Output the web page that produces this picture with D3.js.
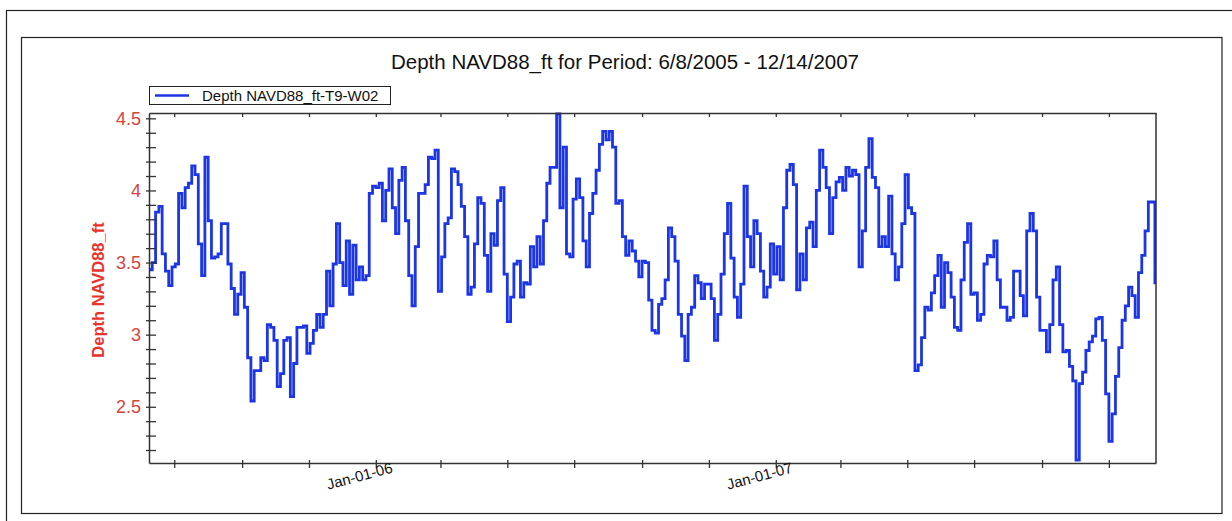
<!DOCTYPE html>
<html><head><meta charset="utf-8">
<script src="https://cdn.jsdelivr.net/npm/d3@7/dist/d3.min.js"></script>
<style>
body{margin:0;background:#fff}
svg{display:block}
text{font-family:"Liberation Sans",Arial,sans-serif}
</style>
</head><body>
<svg id="chart" width="1232" height="521"></svg>
<script>
// ---------- data ----------
const titleText = "Depth NAVD88_ft for Period: 6/8/2005 - 12/14/2007";
const seriesName = "Depth NAVD88_ft-T9-W02";
const yAxisTitle = "Depth NAVD88_ft";
const periodStart = "2005-06-08";
const periodEnd = "2007-12-14";
const sampleStepDays = 3;
const depthValues = [
3.45,3.5,3.85,3.89,3.56,3.44,3.34,3.47,3.49,3.98,
3.88,4.02,4.05,4.17,4.11,3.63,3.41,4.23,3.79,3.53,
3.54,3.56,3.77,3.77,3.49,3.32,3.14,3.28,3.43,3.19,
2.84,2.54,2.75,2.75,2.84,2.82,3.07,3.05,2.96,2.64,
2.73,2.96,2.98,2.57,2.80,3.05,3.05,3.06,2.87,2.94,
3.03,3.14,3.05,3.14,3.44,3.2,3.49,3.77,3.50,3.34,
3.65,3.28,3.62,3.38,3.47,3.38,3.41,3.98,4.03,4.02,
4.05,3.79,4.00,4.15,3.88,3.70,4.07,4.16,3.79,3.41,
3.2,3.61,3.98,3.98,4.04,4.23,4.22,4.28,3.3,3.54,
3.77,3.81,4.15,4.13,4.04,3.89,3.68,3.28,3.33,3.63,
3.95,3.91,3.55,3.30,3.70,3.62,3.93,4.02,3.42,3.09,
3.26,3.49,3.51,3.26,3.36,3.35,3.61,3.47,3.68,3.49,
3.79,4.05,4.16,4.16,4.53,3.88,4.30,3.56,3.54,3.94,
4.08,3.95,3.65,3.47,3.84,3.98,4.14,4.32,4.41,4.35,
4.41,4.30,3.91,3.93,3.68,3.55,3.65,3.58,3.51,3.40,
3.51,3.5,3.24,3.03,3.01,3.21,3.25,3.38,3.74,3.68,
3.51,3.14,2.99,2.82,3.14,3.19,3.41,3.36,3.25,3.35,
3.35,3.25,2.96,3.14,3.42,3.70,3.91,3.53,3.26,3.12,
3.35,4.03,3.68,3.47,3.79,3.70,3.44,3.26,3.33,3.63,
3.42,3.61,3.38,3.88,4.14,4.18,4.04,3.31,3.56,3.38,
3.74,3.78,3.61,4.0,4.28,4.16,4.02,3.70,3.95,4.06,
4.09,4.00,4.16,4.10,4.14,4.11,3.47,3.72,4.16,4.36,
4.09,4.02,3.61,3.68,3.61,3.96,3.56,3.38,3.47,3.77,
4.11,3.88,3.84,2.75,2.79,2.98,3.19,3.17,3.29,3.41,
3.55,3.19,3.50,3.43,3.26,3.05,3.03,3.38,3.64,3.77,
3.28,3.29,3.10,3.14,3.49,3.55,3.54,3.65,3.38,3.19,
3.19,3.10,3.12,3.44,3.44,3.27,3.13,3.72,3.84,3.72,
3.26,3.03,3.03,2.88,3.07,3.38,3.47,3.07,2.88,2.89,
2.78,2.68,2.13,2.66,2.74,2.89,2.95,2.99,3.11,3.12,
2.96,2.59,2.26,2.45,2.71,2.91,3.10,3.20,3.33,3.27,
3.12,3.43,3.55,3.72,3.92,3.92,3.35
];
const yDomain = [2.11, 4.537];
const yTickValues = [2.2,2.3,2.4,2.5,2.6,2.7,2.8,2.9,3.0,3.1,3.2,3.3,3.4,3.5,3.6,3.7,3.8,3.9,4.0,4.1,4.2,4.3,4.4,4.5];
const yTickLabelValues = [2.5,3,3.5,4,4.5];
const yTickLabels = ["2.5","3","3.5","4","4.5"];
const xLabelDates = ["2006-01-01","2007-01-01"];
const xLabels = ["Jan-01-06","Jan-01-07"];

// ---------- drawing ----------
const parse = d3.timeParse("%Y-%m-%d");
const t0 = parse(periodStart), t1 = parse(periodEnd);
const data = depthValues.map((v,i)=>({date:d3.timeDay.offset(t0, i*sampleStepDays), v}));

const L=149, R=1156, T=113, B=463;
const svg = d3.select("#chart");
svg.append("rect").attr("width",1232).attr("height",521).attr("fill","#fff");

// frames
svg.append("rect").attr("x",6.5).attr("y",10.5).attr("width",1240).attr("height",530)
  .attr("fill","none").attr("stroke","#222").attr("stroke-width",1.2);
svg.append("rect").attr("x",21.5).attr("y",37.5).attr("width",1200.5).attr("height",476)
  .attr("fill","#fff").attr("stroke","#222").attr("stroke-width",1.2);

const x = d3.scaleTime().domain([t0,t1]).range([L,R]);
const y = d3.scaleLinear().domain(yDomain).range([B,T]);

// title
svg.append("text").attr("x",625).attr("y",69).attr("text-anchor","middle")
  .attr("font-size",20.5).attr("fill","#111").text(titleText);

// legend
svg.append("rect").attr("x",149.5).attr("y",86.5).attr("width",241).attr("height",18)
  .attr("fill","#fff").attr("stroke","#222").attr("stroke-width",1);
svg.append("line").attr("x1",155).attr("x2",189).attr("y1",95.5).attr("y2",95.5)
  .attr("stroke","#1c36e6").attr("stroke-width",2.5);
svg.append("text").attr("x",202).attr("y",101).attr("font-size",15).attr("fill","#111").text(seriesName);

// clip
svg.append("clipPath").attr("id","clip").append("rect").attr("x",L).attr("y",T-2).attr("width",R-L).attr("height",B-T+2);

// line
const line = d3.line().x(d=>x(d.date)).y(d=>y(d.v)).curve(d3.curveStepAfter);
svg.append("path").datum(data).attr("d",line).attr("fill","none")
  .attr("stroke","#1c36e6").attr("stroke-width",2.8).attr("stroke-linejoin","miter")
  .attr("clip-path","url(#clip)");

// axes
const axisColor = "#333";
const yAxis = d3.axisLeft(y).tickValues(yTickValues).tickSize(3).tickSizeOuter(0).tickPadding(5)
  .tickFormat(d=>{const i=yTickLabelValues.findIndex(v=>Math.abs(v-d)<1e-6); return i>=0?yTickLabels[i]:"";});
const gy = svg.append("g").attr("transform",`translate(${L},0)`).call(yAxis);
gy.selectAll(".tick line").attr("x1",7).attr("stroke",axisColor).attr("stroke-width",1.3);
gy.select(".domain").attr("stroke",axisColor).attr("stroke-width",1.5);
gy.selectAll("text").attr("font-size",18).attr("fill","#d8433f").attr("font-family","'Liberation Sans',Arial,sans-serif");

const xAxis = d3.axisBottom(x).ticks(d3.timeMonth.every(2)).tickSize(5).tickSizeOuter(0).tickFormat("");
const gx = svg.append("g").attr("transform",`translate(0,${B})`).call(xAxis);
gx.selectAll(".tick line").attr("y1",-3).attr("stroke",axisColor).attr("stroke-width",1.3);
gx.select(".domain").attr("stroke",axisColor).attr("stroke-width",1.5);

const xTop = d3.axisBottom(x).ticks(d3.timeMonth.every(2)).tickSize(4).tickSizeOuter(0).tickFormat("");
const gt = svg.append("g").attr("transform",`translate(0,${T})`).call(xTop);
gt.selectAll(".tick line").attr("stroke",axisColor).attr("stroke-width",1.3);
gt.select(".domain").attr("stroke",axisColor).attr("stroke-width",1.5);

svg.append("line").attr("x1",R).attr("x2",R).attr("y1",T).attr("y2",B).attr("stroke",axisColor).attr("stroke-width",1.5);

// x labels
xLabelDates.forEach((ds,i)=>{
  const px = x(parse(ds));
  svg.append("text").attr("transform",`translate(${px-15},${481}) rotate(-15)`)
    .attr("text-anchor","middle").attr("font-size",15).attr("fill","#111").text(xLabels[i]);
});

// y title
svg.append("text").attr("transform",`translate(104,290) rotate(-90)`).attr("text-anchor","middle")
  .attr("font-size",16.5).attr("font-weight","bold").attr("fill","#e8332f").text(yAxisTitle);
</script>
</body></html>
